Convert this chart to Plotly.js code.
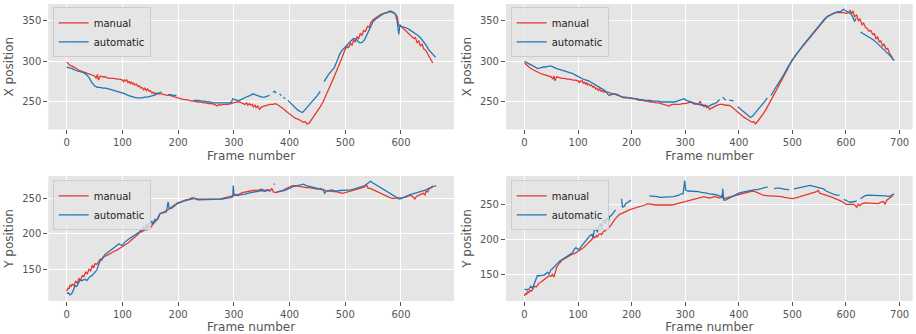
<!DOCTYPE html>
<html>
<head>
<meta charset="utf-8">
<script src="https://cdn.plot.ly/plotly-3.0.1.min.js"></script>
<style>html,body{margin:0;padding:0;background:#fff}#chart{width:916px;height:334px}</style>
</head>
<body>
<div id="chart"></div>
<script>
// [frame, position] samples
const TL_MANUAL = [[0,299],[3,297],[6,295],[10,294],[14,292],[18,291],[22,289],[26,288],[30,287],[34,286],[38,285],[42,284],[46,283],[50,282],[53,279],[55,284],[57,277],[60,282],[64,281],[68,281],[72,280],[76,279],[80,279],[85,279],[90,278],[95,278],[100,277],[102,275],[104,277],[106,276],[108,277],[110,274],[112,275],[114,273],[116,275],[118,272],[120,273],[122,271],[125,272],[128,269],[130,270],[133,267],[135,268],[138,265],[140,267],[143,264],[145,266],[148,263],[150,264],[153,261],[155,262],[158,260],[160,261],[165,260],[170,260],[175,259],[180,258],[185,258],[190,257],[195,256],[200,255],[205,254],[210,253],[215,253],[220,252],[225,251],[230,251],[235,250],[240,250],[245,249],[250,249],[255,248],[260,248],[265,247],[270,245],[273,247],[276,246],[280,247],[285,247],[290,247],[295,248],[300,249],[305,250],[310,250],[315,248],[320,247],[323,249],[325,246],[328,248],[330,246],[333,247],[335,244],[338,246],[340,243],[343,245],[346,241],[350,244],[355,245],[360,246],[365,247],[370,247],[375,248],[380,246],[385,244],[390,241],[395,238],[400,235],[405,233],[410,230],[415,229],[420,227],[425,225],[428,226],[431,223],[435,224],[440,229],[445,234],[450,238],[455,244],[460,250],[465,257],[470,265],[475,273],[480,281],[485,289],[490,296],[495,306],[500,315],[503,318],[506,317],[509,322],[512,320],[515,326],[518,324],[521,330],[524,328],[527,334],[530,332],[533,338],[536,337],[540,343],[543,342],[546,348],[550,351],[555,354],[560,356],[565,358],[570,359],[575,360],[580,361],[585,360],[590,358],[593,355],[596,344],[600,343],[605,340],[610,337],[615,334],[620,331],[623,328],[626,329],[629,323],[632,325],[635,319],[638,321],[641,315],[644,314],[647,310],[650,306],[653,303],[655,300],[657,298]];

const TL_AUTO = [[0,293],[5,292],[10,291],[15,289],[20,288],[25,287],[30,286],[35,284],[40,280],[45,274],[50,270],[55,268],[60,268],[65,267],[70,267],[75,266],[80,265],[85,264],[90,263],[95,262],[100,261],[105,260],[110,258],[115,257],[120,256],[125,255],[130,255],[135,255],[140,256],[145,256],[150,257],[155,258],[160,259],[165,261],[170,262],[176,null],[182,259],[187,259],[192,258],[197,258],[205,null],[227,252],[232,252],[237,252],[242,251],[247,251],[252,250],[257,250],[262,249],[267,249],[272,249],[277,249],[282,249],[287,249],[292,249],[296,250],[298,254],[302,253],[306,252],[310,252],[315,254],[320,255],[325,257],[330,258],[334,260],[338,259],[342,258],[346,257],[350,256],[355,256],[360,257],[364,258],[367,null],[370,262],[373,263],[376,261],[379,null],[382,260],[385,258],[387,null],[389,256],[392,254],[395,null],[397,252],[400,250],[405,247],[410,244],[415,240],[420,238],[423,237],[426,239],[430,242],[435,246],[440,250],[445,254],[450,258],[455,263],[458,null],[462,275],[466,280],[470,284],[475,288],[480,292],[485,300],[490,309],[495,314],[500,318],[505,321],[510,325],[515,328],[520,327],[525,323],[530,323],[535,327],[540,334],[545,342],[550,349],[555,352],[560,355],[565,357],[570,359],[575,360],[580,362],[585,361],[590,358],[593,350],[596,333],[598,345],[600,343],[605,342],[610,341],[615,339],[620,337],[625,335],[630,332],[635,329],[640,325],[645,320],[650,314],[655,310],[660,307],[662,305]];

const TR_MANUAL = [[0,298],[3,296],[6,294],[10,292],[15,290],[20,288],[25,287],[30,285],[35,284],[40,283],[45,282],[50,281],[53,278],[55,282],[57,276],[60,281],[65,280],[70,279],[75,279],[80,278],[85,278],[90,277],[95,277],[100,276],[102,274],[104,276],[106,275],[108,276],[110,273],[112,274],[114,272],[116,274],[118,271],[120,272],[123,270],[125,271],[128,268],[130,269],[133,266],[135,267],[138,264],[140,266],[143,263],[145,264],[148,262],[150,263],[155,262],[160,261],[165,260],[170,259],[175,258],[180,257],[185,256],[190,256],[195,255],[200,254],[205,254],[210,253],[215,252],[220,252],[225,251],[230,251],[235,250],[240,250],[245,249],[250,249],[255,248],[260,247],[265,246],[270,245],[275,247],[280,247],[285,247],[290,247],[295,248],[300,248],[305,249],[310,250],[315,248],[320,247],[325,248],[328,251],[330,247],[333,246],[335,244],[338,246],[340,243],[343,244],[345,241],[350,243],[355,244],[360,246],[365,247],[370,247],[375,246],[380,246],[385,245],[390,242],[395,239],[400,237],[405,234],[410,231],[415,229],[420,227],[425,225],[428,226],[431,223],[435,226],[440,230],[445,235],[450,240],[455,246],[460,252],[465,258],[470,264],[475,270],[480,276],[485,283],[490,289],[495,296],[500,302],[505,307],[510,311],[515,315],[520,320],[525,324],[530,328],[535,331],[540,335],[545,339],[550,343],[555,348],[560,352],[565,355],[570,357],[575,359],[580,360],[585,360],[590,360],[595,360],[600,359],[605,360],[608,363],[610,358],[613,362],[616,355],[620,357],[623,350],[626,352],[630,345],[633,347],[636,342],[640,340],[643,337],[646,338],[650,333],[653,334],[656,328],[659,330],[662,324],[665,325],[668,319],[671,321],[675,315],[678,316],[681,310],[685,306],[688,302]];

const TR_AUTO = [[0,300],[5,298],[10,296],[15,294],[20,292],[25,291],[30,292],[35,293],[40,293],[45,294],[50,294],[55,292],[60,291],[65,290],[70,289],[75,288],[80,287],[85,286],[90,285],[95,283],[100,281],[105,280],[110,278],[115,277],[120,276],[125,274],[130,272],[135,269],[140,268],[145,266],[150,264],[155,260],[158,258],[162,259],[166,260],[170,260],[174,259],[178,257],[182,256],[186,255],[190,255],[195,255],[200,255],[205,254],[210,254],[215,253],[220,253],[225,252],[230,252],[235,252],[240,251],[245,251],[250,251],[255,250],[260,250],[265,250],[270,250],[275,250],[280,250],[285,251],[290,252],[295,253],[298,254],[302,252],[306,251],[310,250],[315,249],[320,248],[325,247],[330,246],[335,246],[340,245],[345,245],[350,247],[355,248],[360,250],[364,253],[367,null],[370,256],[373,254],[376,252],[379,null],[382,252],[386,252],[390,251],[394,null],[398,244],[402,242],[406,239],[410,237],[414,235],[418,233],[422,231],[426,233],[430,236],[435,240],[440,244],[445,248],[450,252],[453,255],[456,null],[460,258],[465,264],[470,269],[475,274],[480,279],[485,285],[490,291],[495,297],[500,302],[505,306],[510,311],[515,316],[520,320],[525,324],[530,328],[535,332],[540,336],[545,341],[550,345],[555,349],[560,352],[565,355],[570,357],[575,359],[580,360],[585,361],[590,361],[595,364],[600,362],[605,361],[610,358],[613,354],[616,349],[619,353],[622,null],[627,336],[632,334],[637,332],[642,331],[647,329],[652,326],[657,323],[662,320],[667,317],[672,314],[677,310],[682,307],[686,304],[690,301]];

const BL_MANUAL = [[0,119],[2,124],[4,122],[6,128],[8,126],[10,129],[13,127],[16,133],[19,131],[22,137],[25,135],[28,141],[31,140],[34,146],[37,144],[40,150],[43,148],[46,156],[48,152],[51,158],[54,157],[57,161],[60,164],[63,163],[66,167],[70,169],[74,170],[78,172],[82,174],[86,175],[90,177],[94,179],[98,181],[102,182],[106,185],[110,187],[114,190],[118,192],[122,195],[126,198],[130,201],[132,204],[134,202],[136,206],[138,204],[142,207],[144,205],[146,210],[150,211],[152,209],[154,214],[158,216],[162,220],[165,225],[168,229],[172,230],[176,231],[180,233],[184,235],[188,238],[192,240],[196,242],[200,244],[205,245],[210,247],[215,248],[220,249],[225,251],[230,250],[235,248],[240,248],[245,248],[250,248],[255,248],[260,248],[265,248],[270,249],[275,249],[280,250],[285,251],[290,251],[295,253],[300,254],[305,255],[310,256],[315,258],[320,259],[325,259],[330,260],[335,261],[340,261],[345,262],[350,263],[355,261],[360,262],[365,260],[368,264],[371,259],[375,258],[380,259],[385,260],[390,262],[395,264],[400,266],[405,268],[410,268],[415,267],[420,266],[425,266],[430,265],[435,265],[440,264],[445,264],[450,263],[455,264],[460,262],[465,261],[470,260],[475,260],[480,259],[485,259],[490,258],[495,257],[500,258],[505,259],[510,261],[515,262],[520,263],[525,264],[530,265],[535,266],[538,269],[541,264],[545,264],[550,262],[555,260],[560,258],[565,256],[570,254],[575,252],[580,251],[585,250],[590,250],[595,251],[600,250],[605,251],[610,252],[615,254],[620,253],[625,249],[628,253],[632,254],[636,256],[640,257],[643,255],[645,260],[648,259],[650,263],[654,265],[657,268]];

const BL_AUTO = [[0,116],[3,117],[6,114],[9,116],[12,121],[15,127],[18,126],[21,130],[24,135],[27,134],[30,135],[33,136],[36,134],[39,137],[42,140],[45,141],[48,143],[51,146],[54,149],[57,155],[60,162],[63,165],[66,168],[70,172],[74,174],[78,176],[82,178],[86,181],[90,184],[94,186],[97,184],[100,184],[104,188],[108,191],[112,193],[116,195],[120,197],[125,200],[130,202],[135,205],[138,210],[140,205],[143,213],[145,209],[148,216],[150,214],[153,218],[155,213],[158,220],[160,219],[164,221],[167,228],[171,229],[175,230],[179,231],[182,245],[184,236],[188,236],[192,239],[196,241],[200,243],[205,245],[210,246],[215,247],[220,248],[225,249],[230,250],[235,249],[240,249],[245,249],[250,248],[255,248],[260,248],[265,248],[270,248],[275,248],[280,249],[285,250],[290,250],[295,251],[298,252],[299,268],[300,256],[303,255],[307,254],[311,255],[315,255],[320,256],[325,257],[330,258],[335,258],[340,259],[345,260],[350,261],[355,260],[360,261],[365,262],[368,null],[372,271],[373,269],[374,null],[377,259],[381,259],[385,260],[390,261],[395,262],[400,264],[405,266],[410,267],[415,268],[420,269],[425,270],[430,268],[435,267],[440,266],[445,266],[450,265],[455,264],[460,262],[463,257],[466,260],[470,261],[475,262],[480,261],[485,260],[490,261],[495,261],[500,261],[505,262],[510,262],[515,263],[520,264],[525,265],[530,266],[535,268],[540,271],[545,274],[549,272],[553,270],[557,268],[561,266],[565,264],[569,262],[573,260],[577,258],[581,256],[585,254],[590,252],[595,250],[598,249],[602,250],[606,252],[610,253],[615,255],[620,256],[625,257],[630,258],[635,259],[640,260],[645,262],[650,264],[655,266],[660,267],[663,268]];

const BR_MANUAL = [[0,119],[2,123],[4,121],[6,126],[8,124],[10,127],[13,126],[16,130],[19,133],[22,132],[25,136],[28,138],[31,139],[34,141],[37,143],[40,145],[43,146],[46,148],[49,147],[52,150],[55,146],[57,152],[60,160],[63,164],[66,167],[70,170],[74,172],[78,174],[82,176],[86,177],[90,179],[94,180],[98,182],[102,183],[106,186],[110,188],[114,191],[118,194],[122,197],[126,200],[128,204],[130,202],[134,205],[136,203],[138,207],[142,208],[144,206],[146,210],[150,212],[154,214],[158,217],[162,221],[166,226],[170,230],[174,233],[178,236],[182,237],[186,239],[190,240],[195,242],[200,243],[205,244],[210,246],[215,247],[220,248],[225,249],[230,251],[235,250],[240,250],[245,249],[250,249],[255,249],[260,248],[265,249],[270,249],[275,249],[280,250],[285,251],[290,252],[295,254],[300,255],[305,255],[310,256],[315,257],[320,258],[325,259],[330,260],[335,261],[340,260],[345,259],[350,260],[355,261],[360,260],[365,259],[368,263],[371,258],[375,259],[380,260],[385,261],[390,263],[395,263],[400,264],[405,265],[410,266],[415,267],[420,269],[425,269],[430,268],[435,267],[440,265],[445,263],[450,262],[455,262],[460,262],[465,262],[470,262],[475,261],[480,261],[485,260],[490,259],[495,258],[500,258],[505,259],[510,260],[515,261],[520,262],[525,263],[530,265],[535,266],[540,267],[545,268],[548,270],[551,266],[555,265],[560,264],[565,263],[570,262],[575,260],[580,258],[585,257],[590,255],[595,253],[600,250],[605,250],[610,250],[615,250],[620,246],[623,250],[626,248],[630,251],[635,252],[640,252],[645,251],[650,252],[655,252],[660,251],[665,253],[670,254],[673,250],[676,256],[680,258],[684,260],[688,263]];

const BR_AUTO = [[0,129],[4,128],[8,129],[12,133],[15,130],[18,137],[21,143],[24,148],[28,148],[32,148],[36,149],[40,151],[43,153],[46,150],[49,156],[52,158],[55,160],[58,163],[62,166],[66,169],[70,171],[74,173],[78,175],[82,176],[86,178],[90,181],[93,186],[96,188],[99,186],[102,186],[106,190],[110,194],[114,197],[118,201],[122,205],[126,207],[128,203],[130,212],[134,215],[136,210],[138,218],[142,222],[144,216],[146,225],[149,227],[151,222],[153,229],[155,229],[157,226],[159,233],[161,233],[164,236],[167,240],[170,242],[172,null],[181,258],[183,246],[186,247],[189,251],[193,253],[196,254],[199,256],[201,null],[233,262],[238,262],[243,261],[248,261],[253,260],[258,260],[263,260],[268,260],[273,260],[278,261],[283,262],[288,263],[292,265],[296,265],[299,284],[301,270],[305,269],[310,269],[315,268],[320,268],[325,268],[330,267],[335,267],[340,266],[345,265],[350,265],[355,264],[360,263],[365,261],[369,260],[370,272],[372,256],[375,256],[380,258],[385,261],[390,263],[395,265],[400,266],[405,267],[410,268],[415,269],[420,270],[425,270],[430,271],[435,271],[440,272],[445,272],[450,274],[454,275],[456,null],[466,272],[470,273],[475,273],[480,272],[485,272],[490,271],[494,271],[497,null],[503,272],[508,273],[513,274],[518,275],[523,276],[528,276],[533,277],[538,276],[543,275],[548,274],[553,274],[558,272],[563,269],[568,267],[573,265],[578,264],[583,263],[588,263],[591,null],[596,257],[600,255],[604,254],[608,253],[612,253],[616,254],[620,255],[623,null],[627,258],[631,260],[635,262],[640,263],[645,263],[650,263],[655,263],[660,263],[665,263],[670,262],[675,262],[680,261],[685,263],[690,265]];

const SERIES_NAMES = ['manual', 'automatic'];
const X_TICKS_LEFT = [0, 100, 200, 300, 400, 500, 600];
const X_TICKS_RIGHT = [0, 100, 200, 300, 400, 500, 600, 700];
const Y_TICKS_TOP = [250, 300, 350];
const Y_TICKS_BOTTOM = [150, 200, 250];
const X_TITLE = 'Frame number';
const Y_TITLE_TOP = 'X position';
const Y_TITLE_BOTTOM = 'Y position';

const RED = '#e8372c';
const BLUE = '#1f77b4';
const FONT = 'DejaVu Sans, Liberation Sans, sans-serif';

function trace(pairs, name, color, ax, legend) {
  return {
    type: 'scatter', mode: 'lines',
    x: pairs.map(p => p[0]), y: pairs.map(p => p[1]),
    name: name, line: {color: color, width: 1.3},
    xaxis: 'x' + ax, yaxis: 'y' + ax, legend: legend,
    connectgaps: false, hoverinfo: 'skip'
  };
}

const data = [
  trace(TL_MANUAL, SERIES_NAMES[0], RED, '', 'legend'),
  trace(TL_AUTO, SERIES_NAMES[1], BLUE, '', 'legend'),
  trace(TR_MANUAL, SERIES_NAMES[0], RED, '2', 'legend2'),
  trace(TR_AUTO, SERIES_NAMES[1], BLUE, '2', 'legend2'),
  trace(BL_MANUAL, SERIES_NAMES[0], RED, '3', 'legend3'),
  trace(BL_AUTO, SERIES_NAMES[1], BLUE, '3', 'legend3'),
  trace(BR_MANUAL, SERIES_NAMES[0], RED, '4', 'legend4'),
  trace(BR_AUTO, SERIES_NAMES[1], BLUE, '4', 'legend4')
];

function xa(domain, range, ticks, anchor) {
  return {
    domain: domain, range: range, anchor: anchor,
    tickmode: 'array', tickvals: ticks, ticktext: ticks.map(String),
    ticks: 'outside', ticklen: 4, tickwidth: 1, tickcolor: '#555555',
    tickfont: {family: FONT, size: 10, color: '#555555'},
    showgrid: true, gridcolor: '#ffffff', gridwidth: 1,
    zeroline: false, showline: false,
    title: {text: X_TITLE, font: {family: FONT, size: 12, color: '#555555'}, standoff: 4}
  };
}
function ya(domain, range, ticks, anchor, title) {
  return {
    domain: domain, range: range, anchor: anchor,
    tickmode: 'array', tickvals: ticks, ticktext: ticks.map(String),
    ticks: 'outside', ticklen: 4, tickwidth: 1, tickcolor: '#555555',
    tickfont: {family: FONT, size: 10, color: '#555555'},
    showgrid: true, gridcolor: '#ffffff', gridwidth: 1,
    zeroline: false, showline: false,
    title: {text: title, font: {family: FONT, size: 12, color: '#555555'}, standoff: 5}
  };
}

const legendStyle = (x, y) => ({
  x: x, y: y, xanchor: 'left', yanchor: 'top',
  bgcolor: 'rgba(229,229,229,0.8)', bordercolor: '#cccccc', borderwidth: 1,
  font: {family: FONT, size: 10, color: '#222222'}
});

const DX_L = [0.0527, 0.4956], DX_R = [0.5524, 0.9964];
const DY_T = [0.6129, 0.988], DY_B = [0.0988, 0.473];

const layout = {
  width: 916, height: 334,
  margin: {l: 0, r: 0, t: 0, b: 0},
  paper_bgcolor: '#ffffff', plot_bgcolor: '#e5e5e5',
  font: {family: FONT, color: '#555555'},
  showlegend: true,
  xaxis: xa(DX_L, [-33.1, 695.1], X_TICKS_LEFT, 'y'),
  yaxis: ya(DY_T, [216.4, 370.5], Y_TICKS_TOP, 'x', Y_TITLE_TOP),
  xaxis2: xa(DX_R, [-34.5, 724.5], X_TICKS_RIGHT, 'y2'),
  yaxis2: ya(DY_T, [216.4, 370.5], Y_TICKS_TOP, 'x2', Y_TITLE_TOP),
  xaxis3: xa(DX_L, [-33.1, 695.1], X_TICKS_LEFT, 'y3'),
  yaxis3: ya(DY_B, [105.4, 281.4], Y_TICKS_BOTTOM, 'x3', Y_TITLE_BOTTOM),
  xaxis4: xa(DX_R, [-34.5, 724.5], X_TICKS_RIGHT, 'y4'),
  yaxis4: ya(DY_B, [111.9, 290.4], Y_TICKS_BOTTOM, 'x4', Y_TITLE_BOTTOM),
  legend: legendStyle(0.0575, 0.978),
  legend2: legendStyle(0.5575, 0.978),
  legend3: legendStyle(0.0575, 0.46),
  legend4: legendStyle(0.5575, 0.46)
};

Plotly.newPlot('chart', data, layout, {staticPlot: true, displayModeBar: false});
</script>
</body>
</html>
